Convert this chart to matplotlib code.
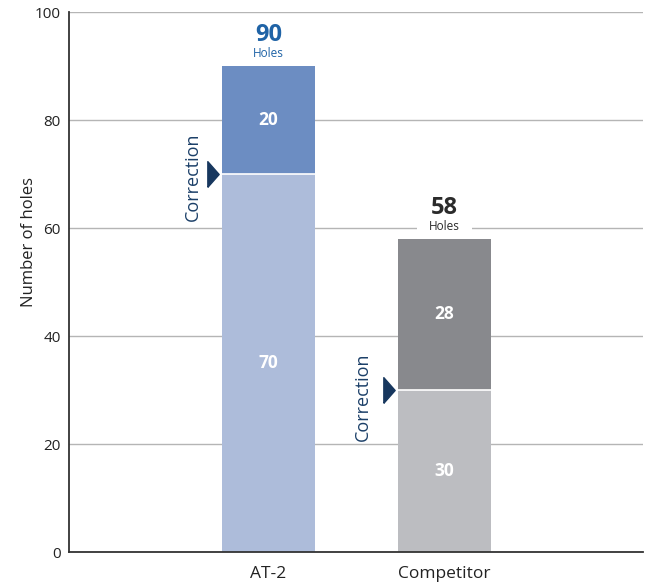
import matplotlib
matplotlib.use("Agg")
import matplotlib.pyplot as plt
from matplotlib.transforms import offset_copy

plt.rcParams['font.family'] = ['Open Sans', 'DejaVu Sans']

categories = ["AT-2", "Competitor"]
base_values = [70, 30]
correction_values = [20, 28]
totals = [90, 58]
base_colors = ["#adbcda", "#bcbdc1"]
top_colors = ["#6c8dc2", "#88898d"]
total_colors = ["#1f63a6", "#2b2b2b"]

# layout offsets (pixels) for the "Correction" labels
corr_dx = [-29, -35]
corr_dy = [-3, -7]

fig = plt.figure(figsize=(6.45, 5.82), dpi=100)
ax = fig.add_axes([69/645, 30/582, 574/645, 540/582])

x = list(range(len(categories)))
width = 0.53
ax.bar(x, base_values, width=width, color=base_colors, zorder=2)
ax.bar(x, correction_values, width=width, bottom=base_values, color=top_colors, zorder=2)
tri = [(-0.22, -0.5), (0.22, 0.0), (-0.22, 0.5), (-0.22, -0.5)]
for i in x:
    ax.plot([i - width/2, i + width/2], [base_values[i], base_values[i]],
            color="white", lw=1.2, zorder=3, solid_capstyle='butt')
    ax.text(i, base_values[i]/2, str(base_values[i]), ha='center', va='center',
            color='white', fontsize=12.5, fontweight='bold', zorder=4)
    ax.text(i, base_values[i] + correction_values[i]/2, str(correction_values[i]),
            ha='center', va='center', color='white', fontsize=12.5, fontweight='bold', zorder=4)
    ax.annotate(str(totals[i]), (i, totals[i]), xytext=(0, 31), textcoords='offset pixels',
                ha='center', va='center', fontsize=17, fontweight='bold',
                color=total_colors[i], zorder=5)
    ax.annotate("Holes", (i, totals[i]), xytext=(0, 12.5), textcoords='offset pixels',
                ha='center', va='center', fontsize=8.5, color=total_colors[i], zorder=1.5,
                bbox=dict(boxstyle='square,pad=1.0', fc='white', ec='none'))
    tr = offset_copy(ax.transData, fig=fig, x=-8.5, y=0, units='dots')
    ax.plot(i - width/2, base_values[i], marker=tri, markersize=18.5,
            color='#17375e', zorder=4, clip_on=False, transform=tr, lw=0)
    ax.annotate("Correction", (i - width/2, base_values[i]), xytext=(corr_dx[i], corr_dy[i]),
                textcoords='offset pixels', rotation=90, ha='center', va='center',
                fontsize=13, color='#1b3f68', zorder=4)

ax.set_xlim(-1.133, 2.128)
ax.set_ylim(0, 100)
ax.set_yticks([0, 20, 40, 60, 80, 100])
ax.set_xticks(x)
ax.set_xticklabels(categories, fontsize=12.5, color='#222222')
ax.tick_params(axis='y', length=0, labelsize=11, labelcolor='#222222', pad=6)
ax.tick_params(axis='x', length=0, pad=10)
ax.grid(axis='y', color='#b5b5b5', lw=1, zorder=0)
ax.set_axisbelow(True)
for s in ['top', 'right']:
    ax.spines[s].set_visible(False)
for s in ['left', 'bottom']:
    ax.spines[s].set_color('#333333')
    ax.spines[s].set_linewidth(1.3)
ax.set_ylabel("Number of holes", fontsize=12, color='#222222')
ax.yaxis.set_label_coords(-32/574, 0.574)

fig.savefig("out.png", dpi=100)
